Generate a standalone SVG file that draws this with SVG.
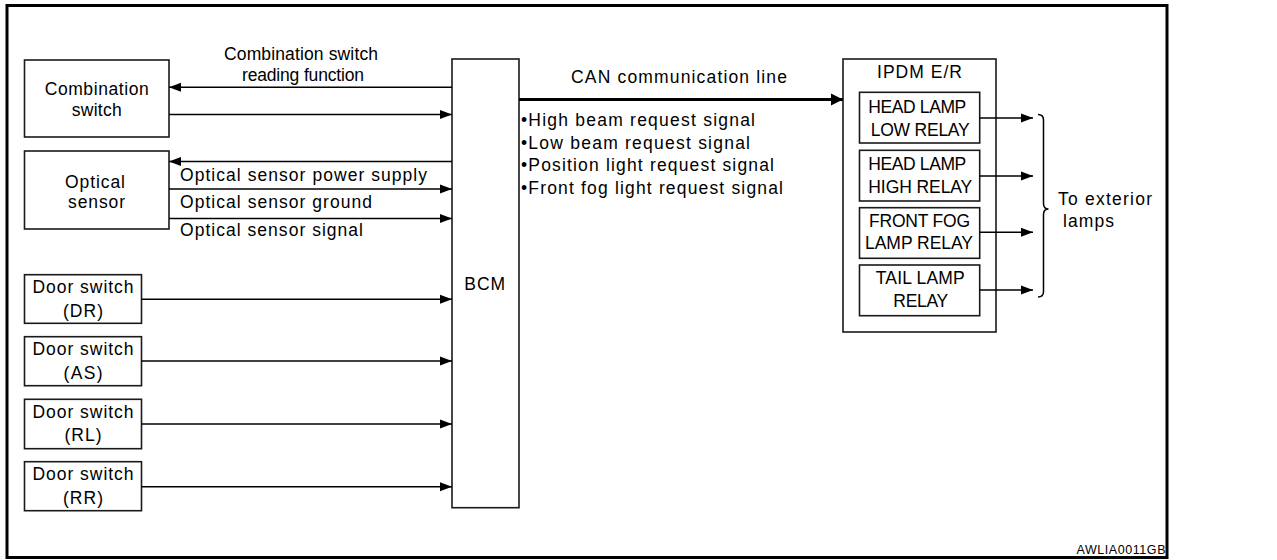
<svg xmlns="http://www.w3.org/2000/svg" width="1277" height="560" viewBox="0 0 1277 560">
<style>
text{font-family:"Liberation Sans",Arial,Helvetica,sans-serif;font-size:17.5px;fill:#000}
.box{fill:#fff;stroke:#1a1a1a;stroke-width:1.6}
.frame{fill:none;stroke:#000;stroke-width:3}
.ln{fill:none;stroke:#000;stroke-width:1.5}
.thick{fill:none;stroke:#000;stroke-width:3.2}
.mid{text-anchor:middle}
.small{font-size:12.5px}
</style>
<defs>
<marker id="ah" markerUnits="userSpaceOnUse" markerWidth="12" markerHeight="10" refX="12" refY="5" orient="auto">
<path d="M0,0.5 L12,5 L0,9.5 z" fill="#000"/>
</marker>
<marker id="ahb" markerUnits="userSpaceOnUse" markerWidth="13" markerHeight="13" refX="12" refY="6.5" orient="auto">
<path d="M0,0.5 L12,6.5 L0,12.5 z" fill="#000"/>
</marker>
</defs>
<rect width="1277" height="560" fill="#fff"/>
<rect class="frame" x="7" y="5.5" width="1160" height="552"/>

<g id="combination-switch">
<rect class="box" x="24.5" y="60" width="144.5" height="77"/>
<text class="mid" x="96.7" y="95" textLength="104">Combination</text>
<text class="mid" x="96.7" y="116" textLength="50">switch</text>
</g>

<g id="optical-sensor">
<rect class="box" x="24.5" y="151" width="144.5" height="78"/>
<text class="mid" x="95" y="187.5" textLength="60">Optical</text>
<text class="mid" x="96.5" y="208" textLength="57">sensor</text>
</g>

<g id="door-switch-dr">
<rect class="box" x="24.5" y="274.7" width="117" height="48.6"/>
<text class="mid" x="83" y="293.3" textLength="101">Door switch</text>
<text class="mid" x="83" y="316.7" textLength="40">(DR)</text>
</g>
<g id="door-switch-as">
<rect class="box" x="24.5" y="336.7" width="117" height="49"/>
<text class="mid" x="83" y="355.3" textLength="101">Door switch</text>
<text class="mid" x="83" y="378.7" textLength="39">(AS)</text>
</g>
<g id="door-switch-rl">
<rect class="box" x="24.5" y="399.3" width="117" height="49.4"/>
<text class="mid" x="83" y="418" textLength="101">Door switch</text>
<text class="mid" x="83" y="441.3" textLength="37">(RL)</text>
</g>
<g id="door-switch-rr">
<rect class="box" x="24.5" y="461.7" width="117" height="49"/>
<text class="mid" x="83" y="480.3" textLength="101">Door switch</text>
<text class="mid" x="83" y="503.7" textLength="40">(RR)</text>
</g>

<g id="bcm">
<rect class="box" x="452" y="59" width="67" height="448.7"/>
<text class="mid" x="484.7" y="290" textLength="41">BCM</text>
</g>

<g id="ipdm-er">
<rect class="box" x="843" y="59" width="153" height="273"/>
<text x="877" y="78" textLength="85">IPDM E/R</text>
<g id="head-lamp-low-relay">
<rect class="box" x="859.5" y="92.3" width="120.2" height="50.7"/>
<text x="868.3" y="113.3" textLength="98">HEAD LAMP</text>
<text x="870.7" y="135.7" textLength="99">LOW RELAY</text>
</g>
<g id="head-lamp-high-relay">
<rect class="box" x="859.5" y="150.3" width="120.2" height="50.7"/>
<text x="868.3" y="170" textLength="98">HEAD LAMP</text>
<text x="868.3" y="193.3" textLength="104">HIGH RELAY</text>
</g>
<g id="front-fog-lamp-relay">
<rect class="box" x="859.5" y="207.7" width="120.2" height="50.6"/>
<text x="869" y="226.7" textLength="101">FRONT FOG</text>
<text x="865" y="249" textLength="108">LAMP RELAY</text>
</g>
<g id="tail-lamp-relay">
<rect class="box" x="859.5" y="265" width="120.2" height="50.7"/>
<text x="875.7" y="284.3" textLength="89">TAIL LAMP</text>
<text x="893.3" y="306.7" textLength="55">RELAY</text>
</g>
</g>

<g id="connectors">
<line class="ln" x1="452" y1="87.3" x2="169" y2="87.3" marker-end="url(#ah)"/>
<line class="ln" x1="169" y1="114.5" x2="452" y2="114.5" marker-end="url(#ah)"/>
<line class="ln" x1="452" y1="161.5" x2="169" y2="161.5" marker-end="url(#ah)"/>
<line class="ln" x1="169" y1="189" x2="452" y2="189" marker-end="url(#ah)"/>
<line class="ln" x1="169" y1="218.5" x2="452" y2="218.5" marker-end="url(#ah)"/>
<line class="ln" x1="141.5" y1="299.3" x2="452" y2="299.3" marker-end="url(#ah)"/>
<line class="ln" x1="141.5" y1="361" x2="452" y2="361" marker-end="url(#ah)"/>
<line class="ln" x1="141.5" y1="424" x2="452" y2="424" marker-end="url(#ah)"/>
<line class="ln" x1="141.5" y1="486.7" x2="452" y2="486.7" marker-end="url(#ah)"/>
<line class="thick" x1="519" y1="99.5" x2="843" y2="99.5" marker-end="url(#ahb)"/>
<line class="ln" x1="979.7" y1="118" x2="1033" y2="118" marker-end="url(#ah)"/>
<line class="ln" x1="979.7" y1="176" x2="1033" y2="176" marker-end="url(#ah)"/>
<line class="ln" x1="979.7" y1="232.3" x2="1033" y2="232.3" marker-end="url(#ah)"/>
<line class="ln" x1="979.7" y1="290" x2="1033" y2="290" marker-end="url(#ah)"/>
<path class="ln" d="M1038,114.5 Q1043.5,114.5 1043.5,120 L1043.5,203.5 Q1043.5,209 1048.5,209 Q1043.5,209 1043.5,214.5 L1043.5,291.5 Q1043.5,297 1038,297"/>
</g>

<g id="labels">
<text x="224" y="60" textLength="154">Combination switch</text>
<text x="242" y="81" textLength="122">reading function</text>
<text x="180" y="181" textLength="247">Optical sensor power supply</text>
<text x="180" y="208.3" textLength="192">Optical sensor ground</text>
<text x="180" y="236" textLength="183">Optical sensor signal</text>
<text x="571" y="83" textLength="216">CAN communication line</text>
<text x="521" y="126" textLength="234">•High beam request signal</text>
<text x="521" y="148.5" textLength="229">•Low beam request signal</text>
<text x="521" y="171.3" textLength="253">•Position light request signal</text>
<text x="521" y="194" textLength="262">•Front fog light request signal</text>
<text x="1058" y="205" textLength="94">To exterior</text>
<text x="1063" y="226.7" textLength="51">lamps</text>
<text class="small" x="1076.5" y="554" textLength="89">AWLIA0011GB</text>
</g>
</svg>
